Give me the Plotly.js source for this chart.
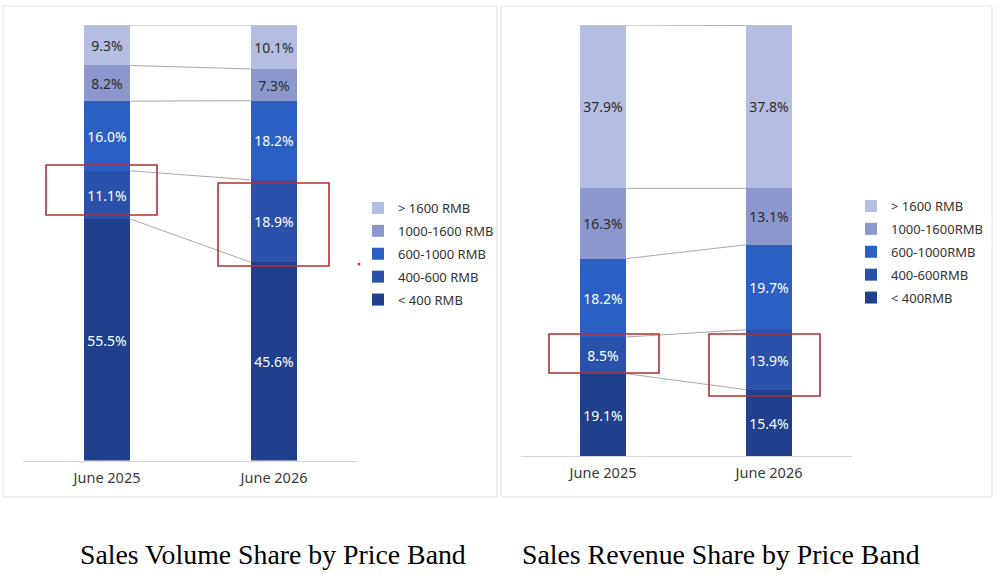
<!DOCTYPE html>
<html>
<head>
<meta charset="utf-8">
<script src="https://cdn.plot.ly/plotly-3.0.1.min.js"></script>
<style>html,body{margin:0;padding:0;background:#fff;}#chart{width:999px;height:574px;}</style>
</head>
<body>
<div id="chart"></div>
<script>
// ---- data ----
var categories = ['June 2025', 'June 2026'];
var volumeBands = ['< 400 RMB', '400-600 RMB', '600-1000 RMB', '1000-1600 RMB', '> 1600 RMB'];
var volume2025 = [55.5, 11.1, 16.0, 8.2, 9.3];
var volume2026 = [45.6, 18.9, 18.2, 7.3, 10.1];
var revenueBands = ['< 400RMB', '400-600RMB', '600-1000RMB', '1000-1600RMB', '> 1600 RMB'];
var revenue2025 = [19.1, 8.5, 18.2, 16.3, 37.9];
var revenue2026 = [15.4, 13.9, 19.7, 13.1, 37.8];
var captions = ['Sales Volume Share by Price Band', 'Sales Revenue Share by Price Band'];

// ---- styles ----
var colors = ['#203f8d', '#2a52ab', '#2c5fc4', '#8c97ce', '#b5bee2'];
var textColors = ['#ffffff', '#ffffff', '#ffffff', '#2b2b2b', '#2b2b2b'];
var W = 999, H = 574;
var BAR_W = 0.28;
function px(x) { return x / W; }
function py(y) { return 1 - y / H; }

var traces = [];
function addPanel(bands, a, b, xa, ya, leg) {
  for (var i = 0; i < bands.length; i++) {
    traces.push({
      type: 'bar', x: [0, 1], y: [a[i], b[i]], name: bands[i],
      xaxis: xa, yaxis: ya, legend: leg, legendgroup: leg + i, legendrank: bands.length - i,
      width: BAR_W,
      marker: { color: colors[i], line: { width: 0 } },
      texttemplate: '%{y:.1f}%', textposition: 'inside', insidetextanchor: 'middle',
      textangle: 0, constraintext: 'none',
      textfont: { family: 'Noto Sans', size: 14, color: textColors[i] },
      hovertemplate: '%{y:.1f}%<extra>' + bands[i] + '</extra>'
    });
  }
  var ca = 0, cb = 0;
  for (var k = 0; k < bands.length; k++) {
    ca += a[k]; cb += b[k];
    traces.push({
      type: 'scatter', mode: 'lines', x: [BAR_W / 2, 1 - BAR_W / 2], y: [ca, cb],
      xaxis: xa, yaxis: ya, showlegend: false, hoverinfo: 'skip',
      line: { color: '#a8a8a8', width: 1 }
    });
  }
}
addPanel(volumeBands, volume2025, volume2026, 'x', 'y', 'legend');
addPanel(revenueBands, revenue2025, revenue2026, 'x2', 'y2', 'legend2');

function sum(arr) { return arr.reduce(function (s, v) { return s + v; }, 0); }
var topL = Math.max(sum(volume2025), sum(volume2026));
var topR = Math.max(sum(revenue2025), sum(revenue2026));

var xBase = {
  tickmode: 'array', tickvals: [0, 1], ticktext: categories,
  showline: true, linecolor: '#d6d6d6', linewidth: 1, showgrid: false, zeroline: false,
  ticks: '', ticklabelstandoff: 4,
  tickfont: { family: 'Noto Sans', size: 14.5, color: '#3a3a3a' }, fixedrange: true
};
var legBase = {
  xanchor: 'left', yanchor: 'top', traceorder: 'grouped', tracegroupgap: 3,
  font: { family: 'Noto Sans', size: 13, color: '#333333' }, bgcolor: 'rgba(0,0,0,0)', borderwidth: 0
};

function rect(x0, y0, x1, y1, color, w) {
  return { type: 'rect', xref: 'paper', yref: 'paper', x0: px(x0), x1: px(x1), y0: py(y1), y1: py(y0),
           line: { color: color, width: w }, fillcolor: 'rgba(0,0,0,0)', layer: 'above' };
}
var shapes = [
  rect(3, 6, 497, 497, '#e2e2e2', 1),
  rect(501, 6, 992, 497, '#e2e2e2', 1),
  rect(46, 165, 157, 215, '#b3302f', 1.6),
  rect(218, 183, 329, 266, '#b3302f', 1.6),
  rect(549, 334, 659, 373, '#b3302f', 1.6),
  rect(709, 334, 820, 396, '#b3302f', 1.6),
  { type: 'circle', xref: 'paper', yref: 'paper', x0: px(357.5), x1: px(360.5), y0: py(265.5), y1: py(262.5),
    line: { width: 0 }, fillcolor: '#e03030' }
];

var layout = {
  width: W, height: H, margin: { l: 0, r: 0, t: 0, b: 0 },
  paper_bgcolor: '#ffffff', plot_bgcolor: 'rgba(0,0,0,0)',
  barmode: 'stack', bargap: 0,
  font: { family: 'Noto Sans', color: '#333333' },
  xaxis: Object.assign({}, xBase, { domain: [px(23), px(358)], range: [-0.503, 1.503], anchor: 'y' }),
  yaxis: { domain: [py(460.5), py(25)], range: [0, topL], visible: false, fixedrange: true, anchor: 'x' },
  xaxis2: Object.assign({}, xBase, { domain: [px(521), px(852)], range: [-0.494, 1.5], anchor: 'y2' }),
  yaxis2: { domain: [py(456), py(25)], range: [0, topR], visible: false, fixedrange: true, anchor: 'x2' },
  legend: Object.assign({}, legBase, { x: px(358), y: py(193) }),
  legend2: Object.assign({}, legBase, { x: px(851), y: py(191) }),
  shapes: shapes,
  annotations: [
    { text: captions[0], xref: 'paper', yref: 'paper', x: px(272.5), y: py(554), xanchor: 'center', yanchor: 'middle',
      showarrow: false, font: { family: 'Liberation Serif', size: 27.8, color: '#000000' } },
    { text: captions[1], xref: 'paper', yref: 'paper', x: px(720.5), y: py(554), xanchor: 'center', yanchor: 'middle',
      showarrow: false, font: { family: 'Liberation Serif', size: 27.8, color: '#000000' } }
  ],
  showlegend: true
};

Plotly.newPlot('chart', traces, layout, { displayModeBar: false, staticPlot: false });
</script>
</body>
</html>
